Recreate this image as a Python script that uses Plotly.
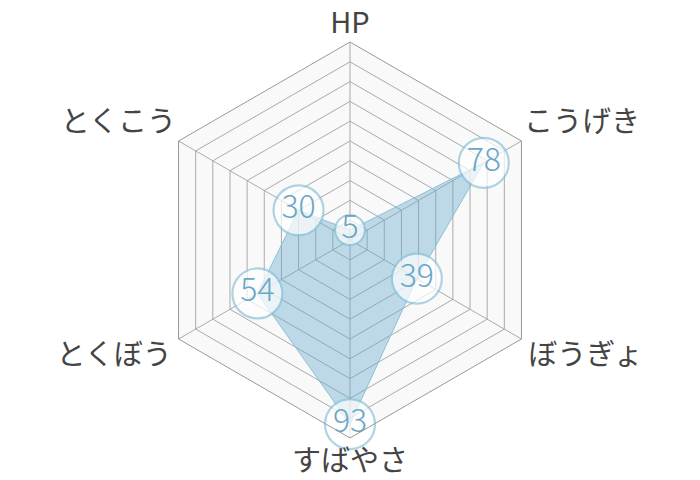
import plotly.graph_objects as go

labels = ["HP", "こうげき", "ぼうぎょ", "すばやさ", "とくぼう", "とくこう"]
values = [5, 78, 39, 93, 54, 30]

font = "Noto Sans CJK JP"
# circles fit the number: small for one digit, bigger for two
sizes = [30 if v < 10 else 50 for v in values]

# where the axis names go, on a wider overlay polar (same centre, same scale)
label_r = [108, 101.5, 104, 113, 104, 101.5]
label_pos = ["middle center", "top right", "bottom right",
             "middle center", "bottom left", "top left"]

# page body has an 8px margin, so the figure is 16px smaller than the window
W, H = 684, 472
cx, cy = W / 2, 240 - 8
R = 198          # px for r = 100
outer = 115      # overlay radial range

def ydom(rad):
    return [1 - (cy + rad) / H, 1 - (cy - rad) / H]

fig = go.Figure()

# filled area
fig.add_trace(go.Scatterpolar(
    r=values + values[:1],
    theta=labels + labels[:1],
    mode="lines",
    fill="toself",
    fillcolor="rgba(100,170,205,0.4)",
    line=dict(color="#8cc0d8", width=1),
    hoverinfo="skip",
))

# numbered circles
fig.add_trace(go.Scatterpolar(
    r=values,
    theta=labels,
    mode="markers+text",
    text=[str(v) for v in values],
    textposition="middle center",
    textfont=dict(family=font, size=32, color="#6aa7c6", weight=300),
    marker=dict(size=sizes, color="white", line=dict(color="#8ec4db", width=2.2)),
))

# axis names
fig.add_trace(go.Scatterpolar(
    r=label_r,
    theta=labels,
    mode="text",
    text=labels,
    textposition=label_pos,
    textfont=dict(family=font, size=29, color="#444444"),
    cliponaxis=False,
    hoverinfo="skip",
    subplot="polar2",
))

fig.update_layout(
    width=W, height=H,
    margin=dict(l=0, r=0, t=0, b=0),
    paper_bgcolor="white",
    showlegend=False,
    font=dict(family=font),
    polar=dict(
        domain=dict(x=[0, 1], y=ydom(R)),
        gridshape="linear",
        bgcolor="#f9f9f9",
        radialaxis=dict(range=[0, 100], dtick=10, showticklabels=False,
                        ticks="", showline=False, gridcolor="#aaaaaa", gridwidth=1),
        angularaxis=dict(rotation=90, direction="clockwise", showticklabels=False,
                         ticks="", linecolor="#999999", gridcolor="#aaaaaa"),
    ),
    polar2=dict(
        domain=dict(x=[0, 1], y=ydom(R * outer / 100)),
        bgcolor="rgba(0,0,0,0)",
        radialaxis=dict(range=[0, outer], visible=False),
        angularaxis=dict(rotation=90, direction="clockwise", visible=False,
                         categoryarray=labels, categoryorder="array"),
    ),
)

fig.write_html("out.html")
